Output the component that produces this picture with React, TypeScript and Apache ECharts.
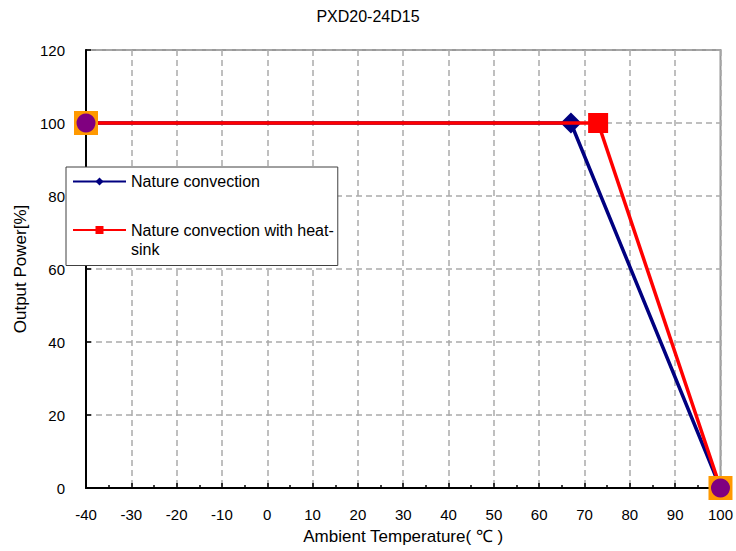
import React, { useEffect, useRef } from "react";
import * as echarts from "echarts";

const chartTitle = "PXD20-24D15";
const xTicks = [-40, 100, 10];
const yTicks = [0, 120, 20];

const natureName = "Nature convection";
const natureX = [-40, 67, 100];
const natureY = [100, 100, 0];

const heatsinkName = "Nature convection with heat-sink";
const heatsinkX = [-40, 73, 100];
const heatsinkY = [100, 100, 0];

const endX = [-40, 100];
const endY = [100, 0];

const FONT = "'Liberation Sans', Arial, sans-serif";

function pairs(xs: number[], ys: number[]) {
  return xs.map((x, i) => [x, ys[i]]);
}

export default function App() {
  const ref = useRef<HTMLDivElement>(null);
  useEffect(() => {
    if (!ref.current) return;
    const chart = echarts.init(ref.current, undefined, { renderer: "svg" });
    chart.setOption({
      animation: false,
      backgroundColor: "#fff",
      textStyle: { fontFamily: FONT },
      title: {
        text: chartTitle,
        left: "center",
        top: 8,
        padding: 0,
        textStyle: { fontSize: 16, fontWeight: "normal", color: "#000", fontFamily: FONT },
      },
      grid: {
        left: 86,
        right: 15,
        top: 50,
        bottom: 63,
        show: true,
        borderColor: "#999",
        borderWidth: 2,
      },
      legend: {
        orient: "vertical",
        left: 66,
        top: 167,
        padding: [5, 4, 7, 6],
        itemGap: 10.5,
        itemWidth: 53,
        itemHeight: 10,
        backgroundColor: "#fff",
        borderColor: "#404040",
        borderWidth: 1,
        borderRadius: 0,
        selectedMode: false,
        textStyle: { fontSize: 16, color: "#000", fontFamily: FONT, lineHeight: 19 },
        formatter: (name: string) =>
          name === heatsinkName ? "\nNature convection with heat-\nsink" : name,
        data: [{ name: natureName }, { name: heatsinkName }],
      },
      xAxis: {
        type: "value",
        min: xTicks[0],
        max: xTicks[1],
        interval: xTicks[2],
        name: "Ambient Temperature( \u2103 )",
        nameLocation: "middle",
        nameGap: 40,
        nameTextStyle: { fontSize: 17, color: "#000", fontFamily: FONT },
        axisLine: { show: true, onZero: false, lineStyle: { color: "#000", width: 2 } },
        axisTick: { show: true, inside: true, length: 5, lineStyle: { color: "#000", width: 1.5 } },
        minorTick: { show: true, splitNumber: 2, length: 3, lineStyle: { color: "#000", width: 1.5 } },
        axisLabel: { fontSize: 15, color: "#000", margin: 19, fontFamily: FONT },
        splitLine: { show: true, lineStyle: { color: "#aaa", width: 1.5, type: [6, 4] } },
      },
      yAxis: {
        type: "value",
        min: yTicks[0],
        max: yTicks[1],
        interval: yTicks[2],
        name: "Output Power[%]",
        nameLocation: "middle",
        nameGap: 56,
        nameTextStyle: { fontSize: 17, color: "#000", fontFamily: FONT },
        axisLine: { show: true, onZero: false, lineStyle: { color: "#000", width: 2 } },
        axisTick: { show: true, inside: true, length: 5, lineStyle: { color: "#000", width: 1.5 } },
        axisLabel: { fontSize: 15, color: "#000", margin: 21, fontFamily: FONT },
        splitLine: { show: true, lineStyle: { color: "#aaa", width: 1.5, type: [6, 4] } },
      },
      series: [
        {
          name: natureName,
          type: "line",
          data: pairs(natureX, natureY),
          symbol: "diamond",
          symbolSize: 21,
          color: "#000080",
          itemStyle: { color: "#000080", opacity: 1 },
          lineStyle: { color: "#000080", width: 3.5 },
          clip: false,
          z: 2,
        },
        {
          name: heatsinkName,
          type: "line",
          data: pairs(heatsinkX, heatsinkY),
          symbol: "rect",
          symbolSize: 20,
          color: "#ff0000",
          itemStyle: { color: "#ff0000", opacity: 1 },
          lineStyle: { color: "#ff0000", width: 3.5 },
          clip: false,
          z: 3,
        },
        {
          name: "endpoints-square",
          type: "scatter",
          data: pairs(endX, endY),
          symbol: "rect",
          symbolSize: 24,
          itemStyle: { color: "#ff9900", opacity: 1 },
          clip: false,
          z: 4,
        },
        {
          name: "endpoints-circle",
          type: "scatter",
          data: pairs(endX, endY),
          symbol: "circle",
          symbolSize: 19,
          itemStyle: { color: "#800080", opacity: 1 },
          clip: false,
          z: 5,
        },
      ],
    });
    return () => chart.dispose();
  }, []);
  return <div ref={ref} style={{ width: 736, height: 551, position: "fixed", left: 0, top: 0 }} />;
}
